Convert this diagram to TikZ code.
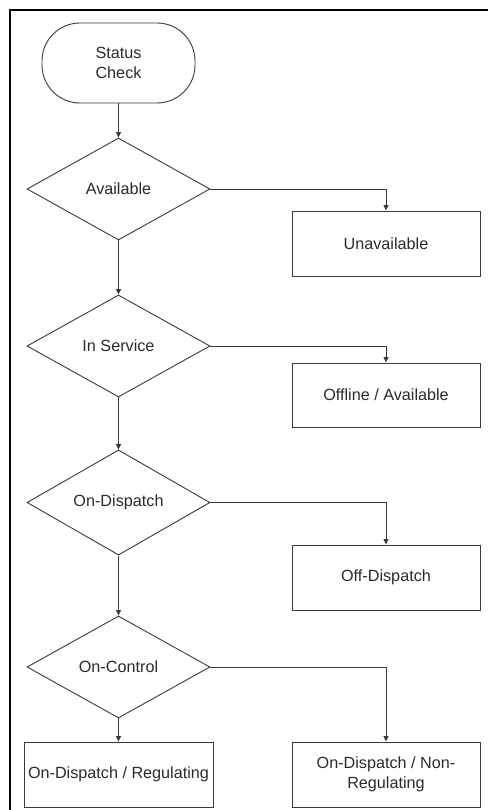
\documentclass[tikz,border=0pt]{standalone}
\usepackage{fontspec}
\setmainfont{Liberation Sans}
\usetikzlibrary{shapes.geometric,arrows.meta}
\definecolor{ln}{HTML}{3A3A3A}
\definecolor{tx}{HTML}{2A2A2A}
\begin{document}
\begin{tikzpicture}[x=1pt,y=-1pt,
  base/.style={draw=ln,line width=0.9pt,text=tx,font=\fontsize{16.2}{20.5}\selectfont,align=center,inner sep=0pt},
  startbox/.style={base,rectangle,rounded corners=38pt,minimum width=153pt,minimum height=80pt},
  decide/.style={base,diamond,minimum width=183pt,minimum height=102pt},
  outbox/.style={base,rectangle,minimum width=188pt,minimum height=65pt},
  conn/.style={draw=ln,line width=0.9pt,-{Triangle[length=5.5pt,width=5pt]}}
]
\useasboundingbox (0,0) rectangle (487,810);
\draw[line width=2pt,black] (10,812) -- (10,10) -- (489,10);

\node[startbox] (start) at (118.5,63) {Status\\Check};
\node[decide] (d1) at (118.5,189) {Available};
\node[decide] (d2) at (118.5,346) {In Service};
\node[decide] (d3) at (118.5,502.5) {On-Dispatch};
\node[decide] (d4) at (118.5,667) {On-Control};

\node[outbox] (b1) at (386,243.5) {Unavailable};
\node[outbox,minimum height=64pt] (b2) at (386,395) {Offline / Available};
\node[outbox] (b3) at (386,577.5) {Off-Dispatch};
\node[outbox,minimum width=189pt] (b4) at (118.5,774.5) {On-Dispatch / Regulating};
\node[outbox] (b5) at (386,774.5) {On-Dispatch / Non-\\Regulating};

\draw[conn] (start) -- (d1);
\draw[conn] (d1) -- (d2);
\draw[conn] (d2) -- (d3);
\draw[conn] (d3) -- (d4);
\draw[conn] (d4) -- (b4);
\draw[conn] (d1.east) -| (b1.north);
\draw[conn] (d2.east) -| (b2.north);
\draw[conn] (d3.east) -| (b3.north);
\draw[conn] (d4.east) -| (b5.north);
\end{tikzpicture}
\end{document}
